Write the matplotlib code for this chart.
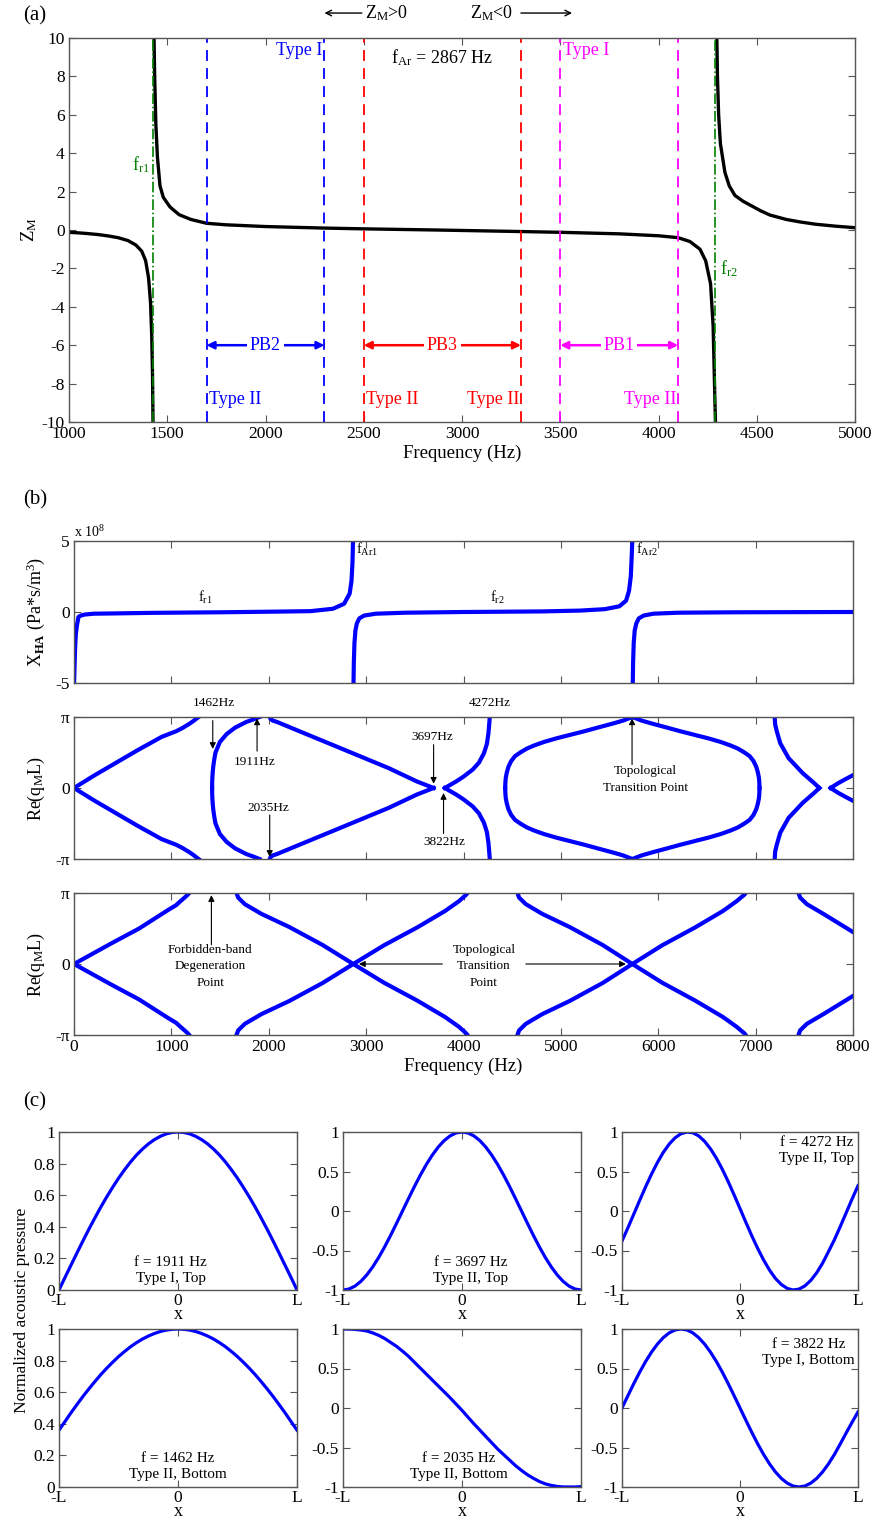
import matplotlib
matplotlib.use('Agg')
import matplotlib.pyplot as plt

plt.rcParams['font.family'] = ['Liberation Serif', 'DejaVu Serif']
plt.rcParams['mathtext.fontset'] = 'custom'
plt.rcParams['mathtext.rm'] = 'Liberation Serif'
plt.rcParams['mathtext.it'] = 'Liberation Serif:italic'
plt.rcParams['mathtext.bf'] = 'Liberation Serif:bold'
plt.rcParams['mathtext.default'] = 'regular'
plt.rcParams['axes.unicode_minus'] = False

# ---- panel (a): Z_M vs frequency ----
za_f1 = [1000, 1050, 1100, 1150, 1200, 1250, 1300, 1340, 1370, 1390, 1405, 1415, 1421, 1425, 1428]
za_z1 = [-0.12, -0.15, -0.19, -0.24, -0.31, -0.4, -0.55, -0.78, -1.1, -1.6, -2.5, -3.8, -5.5, -7.5, -10.5]
za_f2 = [1432, 1436, 1442, 1450, 1463, 1480, 1514, 1560, 1620, 1700, 1800, 2000, 2300, 2500, 2867,
         3300, 3500, 3800, 4000, 4100, 4160, 4211, 4240, 4265, 4278, 4285, 4291]
za_z2 = [10.5, 8.0, 5.5, 3.8, 2.3, 1.7, 1.2, 0.8, 0.55, 0.35, 0.27, 0.18, 0.1, 0.06, 0.0,
         -0.08, -0.12, -0.2, -0.3, -0.4, -0.6, -1.0, -1.6, -2.8, -5.0, -8.0, -10.5]
za_f3 = [4296, 4300, 4306, 4315, 4338, 4360, 4389, 4430, 4466, 4520, 4567, 4650, 4720, 4800, 4900, 5000]
za_z3 = [10.5, 8.0, 6.0, 4.5, 3.0, 2.3, 1.8, 1.5, 1.3, 1.0, 0.78, 0.55, 0.42, 0.3, 0.2, 0.12]
fr_lines = [1427, 4290]
band_edges = {'blue': [1700, 2300], 'red': [2500, 3300], 'magenta': [3500, 4100]}
band_names = ['PB2', 'PB3', 'PB1']

# ---- panel (b) top: X_HA (x 1e8) ----
xh_f1 = [0, 5, 10, 15, 20, 30, 46, 70, 110, 200, 420, 800, 1500, 2000, 2430, 2660, 2774, 2831, 2850, 2860, 2866]
xh_v1 = [-5.2, -4.0, -2.8, -2.0, -1.5, -0.95, -0.35, -0.25, -0.18, -0.12, -0.1, -0.06, -0.02, 0.02, 0.06, 0.23, 0.58, 1.3, 2.2, 3.5, 5.2]
xh_f2 = [2870, 2874, 2880, 2890, 2905, 2930, 2980, 3100, 3400, 4000, 4800, 5200, 5450, 5600, 5670, 5700, 5718, 5728, 5734]
xh_v2 = [-5.2, -3.5, -2.2, -1.3, -0.8, -0.45, -0.25, -0.12, -0.05, 0.0, 0.04, 0.1, 0.2, 0.4, 0.8, 1.5, 2.5, 4.0, 5.2]
xh_f3 = [5738, 5742, 5748, 5758, 5775, 5800, 5850, 5950, 6200, 6800, 8000]
xh_v3 = [-5.2, -3.5, -2.2, -1.3, -0.8, -0.45, -0.25, -0.12, -0.05, -0.02, 0.0]

# ---- panel (b) middle: Re(q_M L)/pi, upper halves (lower halves are mirrored) ----
mid_branches = [
    ([0, 200, 400, 650, 900, 1050, 1108, 1180, 1223, 1255, 1280],
     [0, 0.17, 0.33, 0.53, 0.72, 0.80, 0.84, 0.90, 0.94, 0.975, 1.0]),
    ([1418, 1419, 1421, 1425, 1430, 1440, 1453, 1499, 1568, 1654, 1769, 1850, 1905],
     [0, 0.08, 0.15, 0.23, 0.3, 0.4, 0.5, 0.65, 0.76, 0.85, 0.93, 0.97, 1.0]),
    ([2010, 2018, 2040, 2085, 2372, 2659, 2946, 3233, 3520, 3693],
     [1.0, 0.975, 0.95, 0.93, 0.767, 0.605, 0.442, 0.279, 0.093, 0.0]),
    ([3808, 3922, 4000, 4095, 4160, 4210, 4240, 4256, 4264, 4270],
     [0, 0.09, 0.16, 0.26, 0.36, 0.49, 0.62, 0.77, 0.9, 1.0]),
    ([4428, 4430, 4435, 4445, 4462, 4490, 4530, 4583, 4650, 4727, 4830, 4956, 5100, 5243,
      5390, 5531, 5640, 5734, 5828, 5937, 6078, 6225, 6368, 6512, 6638, 6741, 6818, 6885,
      6938, 6978, 7006, 7023, 7033, 7038, 7040],
     [0, 0.08, 0.15, 0.22, 0.3, 0.38, 0.45, 0.5, 0.555, 0.6, 0.65, 0.7, 0.75, 0.8,
      0.855, 0.907, 0.95, 1.0, 0.95, 0.907, 0.855, 0.8, 0.75, 0.7, 0.65, 0.6, 0.555, 0.5,
      0.45, 0.38, 0.3, 0.22, 0.15, 0.08, 0]),
    ([7196, 7200, 7215, 7253, 7339, 7483, 7600, 7655],
     [1.0, 0.9, 0.81, 0.63, 0.42, 0.21, 0.07, 0.0]),
    ([7770, 7850, 7930, 8000],
     [0, 0.07, 0.13, 0.18]),
]

# ---- panel (b) bottom: Re(q_M L)/pi ----
bot_branches = [
    ([0, 383, 669, 954, 1050, 1097, 1140, 1171, 1183],
     [0, 0.29, 0.5, 0.75, 0.83, 0.89, 0.94, 0.98, 1.0]),
    ([1669, 1686, 1754, 1926, 2211, 2554, 2868, 3183, 3526, 3811, 3954, 4028, 4040],
     [1.0, 0.935, 0.843, 0.705, 0.521, 0.267, 0.0, -0.263, -0.516, -0.747, -0.885, -0.977, -1.0]),
    ([4554, 4571, 4640, 4810, 5090, 5430, 5734, 6040, 6380, 6665, 6805, 6885, 6897],
     [1.0, 0.935, 0.843, 0.705, 0.521, 0.267, 0.0, -0.263, -0.516, -0.747, -0.885, -0.977, -1.0]),
    ([7440, 7457, 7526, 7697, 8000],
     [1.0, 0.935, 0.843, 0.705, 0.45]),
]

# ---- panel (c): normalized acoustic pressure along x ----
xs = [-1.0, -0.95, -0.9, -0.85, -0.8, -0.75, -0.7, -0.65, -0.6, -0.55, -0.5,
      -0.45, -0.4, -0.35, -0.3, -0.25, -0.2, -0.15, -0.1, -0.05, 0.0,
      0.05, 0.1, 0.15, 0.2, 0.25, 0.3, 0.35, 0.4, 0.45, 0.5,
      0.55, 0.6, 0.65, 0.7, 0.75, 0.8, 0.85, 0.9, 0.95, 1.0]
p_1911 = [0.0, 0.079, 0.156, 0.233, 0.309, 0.383, 0.454, 0.523, 0.588, 0.649, 0.707,
          0.760, 0.809, 0.853, 0.891, 0.924, 0.951, 0.972, 0.988, 0.997, 1.0,
          0.997, 0.988, 0.972, 0.951, 0.924, 0.891, 0.853, 0.809, 0.760, 0.707,
          0.649, 0.588, 0.523, 0.454, 0.383, 0.309, 0.233, 0.156, 0.079, 0.0]
p_3697 = [-1.0, -0.988, -0.951, -0.891, -0.809, -0.707, -0.588, -0.454, -0.309, -0.156, 0.0,
          0.156, 0.309, 0.454, 0.588, 0.707, 0.809, 0.891, 0.951, 0.988, 1.0,
          0.988, 0.951, 0.891, 0.809, 0.707, 0.588, 0.454, 0.309, 0.156, 0.0,
          -0.156, -0.309, -0.454, -0.588, -0.707, -0.809, -0.891, -0.951, -0.988, -1.0]
p_4272 = [-0.380, -0.213, -0.039, 0.135, 0.306, 0.466, 0.614, 0.742, 0.847, 0.927, 0.978,
          0.999, 0.990, 0.951, 0.882, 0.787, 0.668, 0.528, 0.372, 0.204, 0.031,
          -0.144, -0.314, -0.474, -0.620, -0.748, -0.853, -0.930, -0.980, -1.0, -0.989,
          -0.948, -0.878, -0.782, -0.660, -0.514, -0.364, -0.196, -0.022, 0.152, 0.320]
p_1462 = [0.360, 0.414, 0.469, 0.521, 0.572, 0.620, 0.666, 0.710, 0.751, 0.789, 0.825,
          0.857, 0.887, 0.913, 0.936, 0.955, 0.971, 0.984, 0.993, 0.998, 1.0,
          0.998, 0.993, 0.984, 0.971, 0.955, 0.936, 0.913, 0.887, 0.857, 0.825,
          0.789, 0.751, 0.710, 0.666, 0.620, 0.572, 0.521, 0.469, 0.414, 0.360]
p_2035 = [1.0, 0.999, 0.995, 0.987, 0.975, 0.95, 0.92, 0.88, 0.83, 0.78, 0.72,
          0.655, 0.58, 0.505, 0.43, 0.355, 0.28, 0.205, 0.13, 0.05, -0.03,
          -0.115, -0.2, -0.28, -0.36, -0.44, -0.52, -0.59, -0.66, -0.73, -0.79,
          -0.845, -0.89, -0.93, -0.96, -0.98, -0.993, -0.999, -1.0, -1.0, -0.995]
p_3822 = [0.0, 0.156, 0.309, 0.454, 0.588, 0.707, 0.809, 0.891, 0.951, 0.988, 1.0,
          0.988, 0.951, 0.891, 0.809, 0.707, 0.588, 0.454, 0.309, 0.156, 0.0,
          -0.156, -0.309, -0.454, -0.588, -0.707, -0.809, -0.891, -0.951, -0.988, -1.0,
          -0.988, -0.951, -0.891, -0.809, -0.707, -0.588, -0.454, -0.315, -0.18, -0.05]

W, H = 873, 1524
fig = plt.figure(figsize=(W / 100, H / 100), dpi=100)


def box(l, t, r, b):
    return [l / W, 1 - b / H, (r - l) / W, (b - t) / H]


def style(ax, size=12.5):
    ax.tick_params(direction='in', top=True, right=True, length=5, width=0.8,
                   color='#555555', labelsize=size, pad=3)
    for s in ax.spines.values():
        s.set_color('#555555')
        s.set_linewidth(1.0)


arrow_k = dict(arrowstyle='-|>', color='k', lw=0.8, mutation_scale=9, shrinkA=0, shrinkB=0)

# ================= (a) =================
ax = fig.add_axes(box(69, 38, 855, 422))
style(ax)
ax.plot(za_f1, za_z1, color='k', lw=2.4)
ax.plot(za_f2, za_z2, color='k', lw=2.4)
ax.plot(za_f3, za_z3, color='k', lw=2.4)
for fr in fr_lines:
    ax.axvline(fr, color='#008000', ls='-.', lw=1.2)
for (c, (lo, hi)), name in zip(band_edges.items(), band_names):
    ax.axvline(lo, color=c, ls='--', lw=1.3, dashes=(6, 4))
    ax.axvline(hi, color=c, ls='--', lw=1.3, dashes=(6, 4))
    ax.annotate('', xy=(lo, -6), xytext=(hi, -6),
                arrowprops=dict(arrowstyle='<|-|>', color=c, lw=1.8, mutation_scale=11,
                                shrinkA=0, shrinkB=0))
    ax.text((lo + hi) / 2, -6, name, color=c, ha='center', va='center', fontsize=13,
            bbox=dict(fc='white', ec='none', pad=2))
ax.text(2290, 9.35, 'Type I', color='b', ha='right', va='center', fontsize=13)
ax.text(3515, 9.35, 'Type I', color='magenta', ha='left', va='center', fontsize=13)
ax.text(1710, -8.85, 'Type II', color='b', ha='left', va='center', fontsize=13)
ax.text(2510, -8.85, 'Type II', color='r', ha='left', va='center', fontsize=13)
ax.text(3290, -8.85, 'Type II', color='r', ha='right', va='center', fontsize=13)
ax.text(4090, -8.85, 'Type II', color='magenta', ha='right', va='center', fontsize=13)
ax.text(2640, 9.0, r'f$_{Ar}$ = 2867 Hz', color='k', ha='left', va='center', fontsize=13)
ax.text(1412, 3.4, r'f$_{r1}$', color='#008000', ha='right', va='center', fontsize=13)
ax.text(4315, -2.0, r'f$_{r2}$', color='#008000', ha='left', va='center', fontsize=13)
ax.annotate('', xy=(2300, 11.3), xytext=(2490, 11.3), annotation_clip=False,
            arrowprops=dict(arrowstyle='->', color='k', lw=1.0, shrinkA=0, shrinkB=0))
ax.text(2505, 11.3, r'Z$_M$>0', ha='left', va='center', fontsize=13)
ax.text(3040, 11.3, r'Z$_M$<0', ha='left', va='center', fontsize=13)
ax.annotate('', xy=(3560, 11.3), xytext=(3300, 11.3), annotation_clip=False,
            arrowprops=dict(arrowstyle='->', color='k', lw=1.0, shrinkA=0, shrinkB=0))
ax.set_xlim(1000, 5000)
ax.set_ylim(-10, 10)
ax.set_xticks(range(1000, 5001, 500))
ax.set_yticks(range(-10, 11, 2))
ax.set_xlabel('Frequency (Hz)', fontsize=13.5, labelpad=2)
ax.set_ylabel(r'Z$_M$', fontsize=13.5, labelpad=2)
fig.text(35 / W, 1 - 16 / H, '(a)', fontsize=15, ha='center', va='center')

# ================= (b) =================
fig.text(35 / W, 1 - 500 / H, '(b)', fontsize=15, ha='center', va='center')
ax1 = fig.add_axes(box(74, 541, 853, 683))
style(ax1)
for f, v in [(xh_f1, xh_v1), (xh_f2, xh_v2), (xh_f3, xh_v3)]:
    ax1.plot(f, v, color='b', lw=3)
ax1.set_xlim(0, 8000)
ax1.set_ylim(-5, 5)
ax1.set_xticks(range(0, 8001, 1000))
ax1.set_xticklabels([])
ax1.set_yticks([-5, 0, 5])
ax1.text(0, 1.01, r'x 10$^8$', transform=ax1.transAxes, fontsize=10, va='bottom')
ax1.text(1345, 1.0, r'f$_{r1}$', fontsize=10.5, ha='center', va='center')
ax1.text(4345, 1.0, r'f$_{r2}$', fontsize=10.5, ha='center', va='center')
ax1.text(2900, 4.4, r'f$_{Ar1}$', fontsize=10.5, ha='left', va='center')
ax1.text(5770, 4.4, r'f$_{Ar2}$', fontsize=10.5, ha='left', va='center')
ax1.set_ylabel(r'X$_{\mathbf{HA}}$ (Pa*s/m$^3$)', fontsize=13, labelpad=6)

ax2 = fig.add_axes(box(74, 717, 853, 859))
style(ax2)
for f, v in mid_branches:
    ax2.plot(f, v, color='b', lw=3)
    ax2.plot(f, [-x for x in v], color='b', lw=3)
ax2.set_xlim(0, 8000)
ax2.set_ylim(-1, 1)
ax2.set_xticks(range(0, 8001, 1000))
ax2.set_xticklabels([])
ax2.set_yticks([-1, 0, 1])
ax2.set_yticklabels(['-π', '0', 'π'])
ax2.set_ylabel(r'Re(q$_M$L)', fontsize=13, labelpad=6)
sm = 9.5
ax2.text(1440, 1.2, '1462Hz', fontsize=sm, ha='center', va='center')
ax2.annotate('', xy=(1425, 0.55), xytext=(1425, 0.95), arrowprops=arrow_k)
ax2.text(1860, 0.37, '1911Hz', fontsize=sm, ha='center', va='center')
ax2.annotate('', xy=(1880, 0.98), xytext=(1880, 0.52), arrowprops=arrow_k)
ax2.text(2000, -0.28, '2035Hz', fontsize=sm, ha='center', va='center')
ax2.annotate('', xy=(2010, -0.97), xytext=(2010, -0.38), arrowprops=arrow_k)
ax2.text(3680, 0.72, '3697Hz', fontsize=sm, ha='center', va='center')
ax2.annotate('', xy=(3693, 0.06), xytext=(3693, 0.61), arrowprops=arrow_k)
ax2.text(3808, -0.76, '3822Hz', fontsize=sm, ha='center', va='center')
ax2.annotate('', xy=(3795, -0.07), xytext=(3795, -0.64), arrowprops=arrow_k)
ax2.text(4267, 1.2, '4272Hz', fontsize=sm, ha='center', va='center')
ax2.text(5870, 0.12, 'Topological\nTransition Point', fontsize=sm, ha='center', va='center',
         linespacing=1.5)
ax2.annotate('', xy=(5731, 0.98), xytext=(5731, 0.33), arrowprops=arrow_k)

ax3 = fig.add_axes(box(74, 893, 853, 1035))
style(ax3)
for f, v in bot_branches:
    ax3.plot(f, v, color='b', lw=3)
    ax3.plot(f, [-x for x in v], color='b', lw=3)
ax3.set_xlim(0, 8000)
ax3.set_ylim(-1, 1)
ax3.set_xticks(range(0, 8001, 1000))
ax3.set_yticks([-1, 0, 1])
ax3.set_yticklabels(['-π', '0', 'π'])
ax3.set_ylabel(r'Re(q$_M$L)', fontsize=13, labelpad=6)
ax3.set_xlabel('Frequency (Hz)', fontsize=13.5, labelpad=2)
ax3.text(1400, -0.03, 'Forbidden-band\nDegeneration\nPoint', fontsize=sm, ha='center',
         va='center', linespacing=1.5)
ax3.annotate('', xy=(1411, 0.97), xytext=(1411, 0.27), arrowprops=arrow_k)
ax3.text(4211, -0.03, 'Topological\nTransition\nPoint', fontsize=sm, ha='center',
         va='center', linespacing=1.5)
ax3.annotate('', xy=(2926, 0), xytext=(3783, 0), arrowprops=arrow_k)
ax3.annotate('', xy=(5668, 0), xytext=(4640, 0), arrowprops=arrow_k)

# ================= (c) =================
fig.text(35 / W, 1 - 1102 / H, '(c)', fontsize=15, ha='center', va='center')
cols = [(59, 297), (343, 581), (622, 858)]
rows = [(1132, 1290), (1329, 1487)]
panels = [
    (0, 0, p_1911, 'f = 1911 Hz\nType I, Top', -0.06, 0.125, 'unit'),
    (0, 1, p_3697, 'f = 3697 Hz\nType II, Top', 0.07, -0.75, 'sym'),
    (0, 2, p_4272, 'f = 4272 Hz\nType II, Top', 0.65, 0.76, 'sym'),
    (1, 0, p_1462, 'f = 1462 Hz\nType II, Bottom', 0.0, 0.13, 'unit'),
    (1, 1, p_2035, 'f = 2035 Hz\nType II, Bottom', -0.03, -0.74, 'sym'),
    (1, 2, p_3822, 'f = 3822 Hz\nType I, Bottom', 0.58, 0.7, 'sym'),
]
for r, c, p, label, tx, ty, kind in panels:
    axc = fig.add_axes(box(cols[c][0], rows[r][0], cols[c][1], rows[r][1]))
    style(axc)
    axc.tick_params(axis='x', pad=2)
    axc.plot(xs, p, color='b', lw=2.3)
    axc.set_xlim(-1, 1)
    axc.set_xticks([-1, 0, 1])
    axc.set_xticklabels(['-L', '0', 'L'])
    if kind == 'unit':
        axc.set_ylim(0, 1)
        axc.set_yticks([0, 0.2, 0.4, 0.6, 0.8, 1])
        axc.set_yticklabels(['0', '0.2', '0.4', '0.6', '0.8', '1'])
    else:
        axc.set_ylim(-1, 1)
        axc.set_yticks([-1, -0.5, 0, 0.5, 1])
        axc.set_yticklabels(['-1', '-0.5', '0', '0.5', '1'])
    axc.set_xlabel('x', fontsize=13, labelpad=-2)
    axc.text(tx, ty, label, fontsize=11, ha='center', va='center', linespacing=1.3)

fig.text(22 / W, 1 - 1310 / H, 'Normalized acoustic pressure', rotation=90,
         fontsize=12.5, ha='center', va='center')

fig.savefig('out.png', dpi=100)
